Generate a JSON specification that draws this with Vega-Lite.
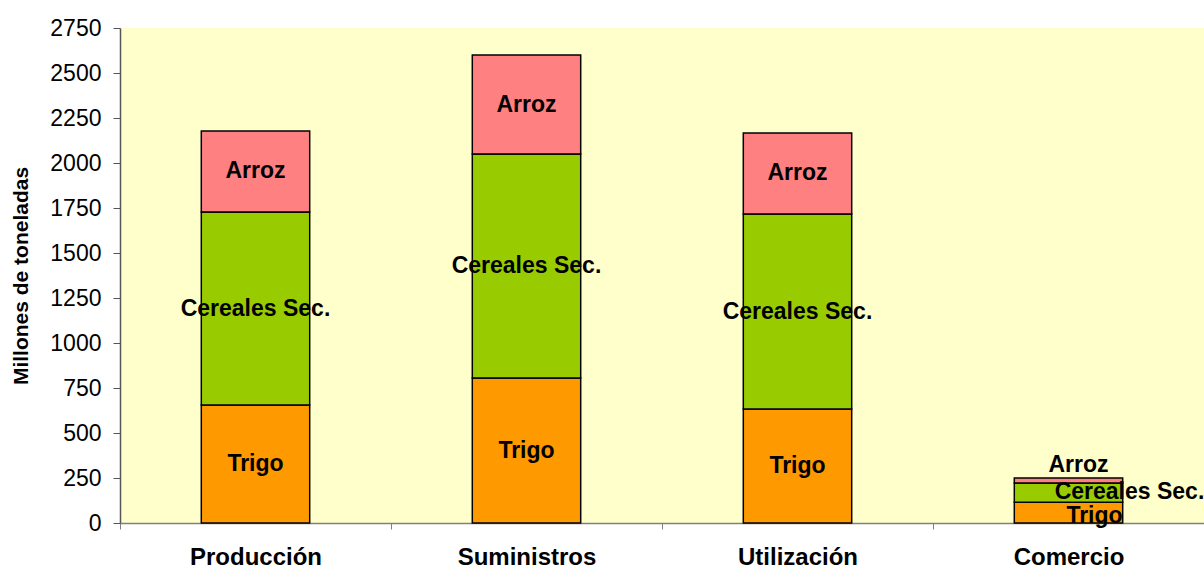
{
  "$schema": "https://vega.github.io/schema/vega-lite/v6.json",
  "autosize": "none",
  "width": 1084,
  "height": 495,
  "padding": {"left": 120, "top": 28, "right": 0, "bottom": 46},
  "background": "white",
  "config": {
    "view": {"fill": "#FFFFCC", "stroke": null},
    "font": "Liberation Sans"
  },
  "data": {
    "values": [
      {"cat": "Producción", "crop": "Trigo", "label": "Trigo", "order": 1, "value": 655},
      {"cat": "Producción", "crop": "Cereales Sec.", "label": "Cereales Sec.", "order": 2, "value": 1073},
      {"cat": "Producción", "crop": "Arroz", "label": "Arroz", "order": 3, "value": 450},
      {"cat": "Suministros", "crop": "Trigo", "label": "Trigo", "order": 1, "value": 805},
      {"cat": "Suministros", "crop": "Cereales Sec.", "label": "Cereales Sec.", "order": 2, "value": 1245},
      {"cat": "Suministros", "crop": "Arroz", "label": "Arroz", "order": 3, "value": 550},
      {"cat": "Utilización", "crop": "Trigo", "label": "Trigo", "order": 1, "value": 633},
      {"cat": "Utilización", "crop": "Cereales Sec.", "label": "Cereales Sec.", "order": 2, "value": 1084},
      {"cat": "Utilización", "crop": "Arroz", "label": "Arroz", "order": 3, "value": 450},
      {"cat": "Comercio", "crop": "Trigo", "label": "Trigo", "order": 1, "value": 115},
      {"cat": "Comercio", "crop": "Cereales Sec.", "label": "Cereales Sec.", "order": 2, "value": 107},
      {"cat": "Comercio", "crop": "Arroz", "label": "Arroz", "order": 3, "value": 28}
    ]
  },
  "encoding": {
    "x": {
      "field": "cat",
      "type": "nominal",
      "sort": ["Producción", "Suministros", "Utilización", "Comercio"],
      "scale": {"paddingInner": 0, "paddingOuter": 0},
      "axis": {
        "title": null,
        "labelAngle": 0,
        "labelFont": "Liberation Sans",
        "labelFontSize": 24,
        "labelFontWeight": "bold",
        "labelColor": "black",
        "labelPadding": 16,
        "tickBand": "extent",
        "tickSize": 6,
        "tickColor": "#808080",
        "domainColor": "#808080",
        "domainWidth": 1.5
      }
    }
  },
  "layer": [
    {
      "mark": {"type": "bar", "width": {"band": 0.4}, "stroke": "black", "strokeWidth": 1.5},
      "encoding": {
        "y": {
          "field": "value",
          "type": "quantitative",
          "stack": "zero",
          "scale": {"domain": [0, 2750], "nice": false},
          "axis": {
            "title": "Millones de toneladas",
            "titleFont": "Liberation Sans",
            "titleFontSize": 21,
            "titleFontWeight": "bold",
            "titleColor": "black",
            "titlePadding": 18,
            "values": [0, 250, 500, 750, 1000, 1250, 1500, 1750, 2000, 2250, 2500, 2750],
            "format": "d",
            "labelFont": "Liberation Sans",
            "labelFontSize": 23,
            "labelColor": "black",
            "labelPadding": 12,
            "tickSize": 7,
            "tickColor": "#555555",
            "domainColor": "#555555",
            "domainWidth": 1.5,
            "grid": false
          }
        },
        "color": {
          "field": "crop",
          "type": "nominal",
          "scale": {"domain": ["Trigo", "Cereales Sec.", "Arroz"], "range": ["#FF9900", "#99CC00", "#FF8080"]},
          "legend": null
        },
        "order": {"field": "order", "type": "quantitative"}
      }
    },
    {
      "transform": [{"filter": "datum.cat !== 'Comercio'"}],
      "mark": {"type": "text", "fontSize": 23, "fontWeight": "bold", "color": "black", "baseline": "middle", "align": "center"},
      "encoding": {
        "y": {"field": "value", "type": "quantitative", "stack": "zero", "bandPosition": 0.5},
        "text": {"field": "label"},
        "order": {"field": "order", "type": "quantitative"}
      }
    },
    {
      "transform": [
        {"filter": "datum.cat === 'Comercio'"},
        {"stack": "value", "groupby": ["cat"], "sort": [{"field": "order"}], "as": ["v0", "v1"]},
        {"filter": "datum.crop === 'Arroz'"}
      ],
      "mark": {"type": "text", "fontSize": 23, "fontWeight": "bold", "color": "black", "baseline": "middle", "align": "center", "dx": 10, "dy": -13},
      "encoding": {
        "y": {"field": "v1", "type": "quantitative"},
        "text": {"field": "label"}
      }
    },
    {
      "transform": [
        {"filter": "datum.cat === 'Comercio'"},
        {"stack": "value", "groupby": ["cat"], "sort": [{"field": "order"}], "as": ["v0", "v1"]},
        {"filter": "datum.crop === 'Cereales Sec.'"}
      ],
      "mark": {"type": "text", "fontSize": 23, "fontWeight": "bold", "color": "black", "baseline": "middle", "align": "center", "dx": 61, "dy": 9},
      "encoding": {
        "y": {"field": "v1", "type": "quantitative"},
        "text": {"field": "label"}
      }
    },
    {
      "transform": [
        {"filter": "datum.cat === 'Comercio'"},
        {"stack": "value", "groupby": ["cat"], "sort": [{"field": "order"}], "as": ["v0", "v1"]},
        {"filter": "datum.crop === 'Trigo'"}
      ],
      "mark": {"type": "text", "fontSize": 23, "fontWeight": "bold", "color": "black", "baseline": "middle", "align": "center", "dx": 26, "dy": 14},
      "encoding": {
        "y": {"field": "v1", "type": "quantitative"},
        "text": {"field": "label"}
      }
    }
  ]
}
